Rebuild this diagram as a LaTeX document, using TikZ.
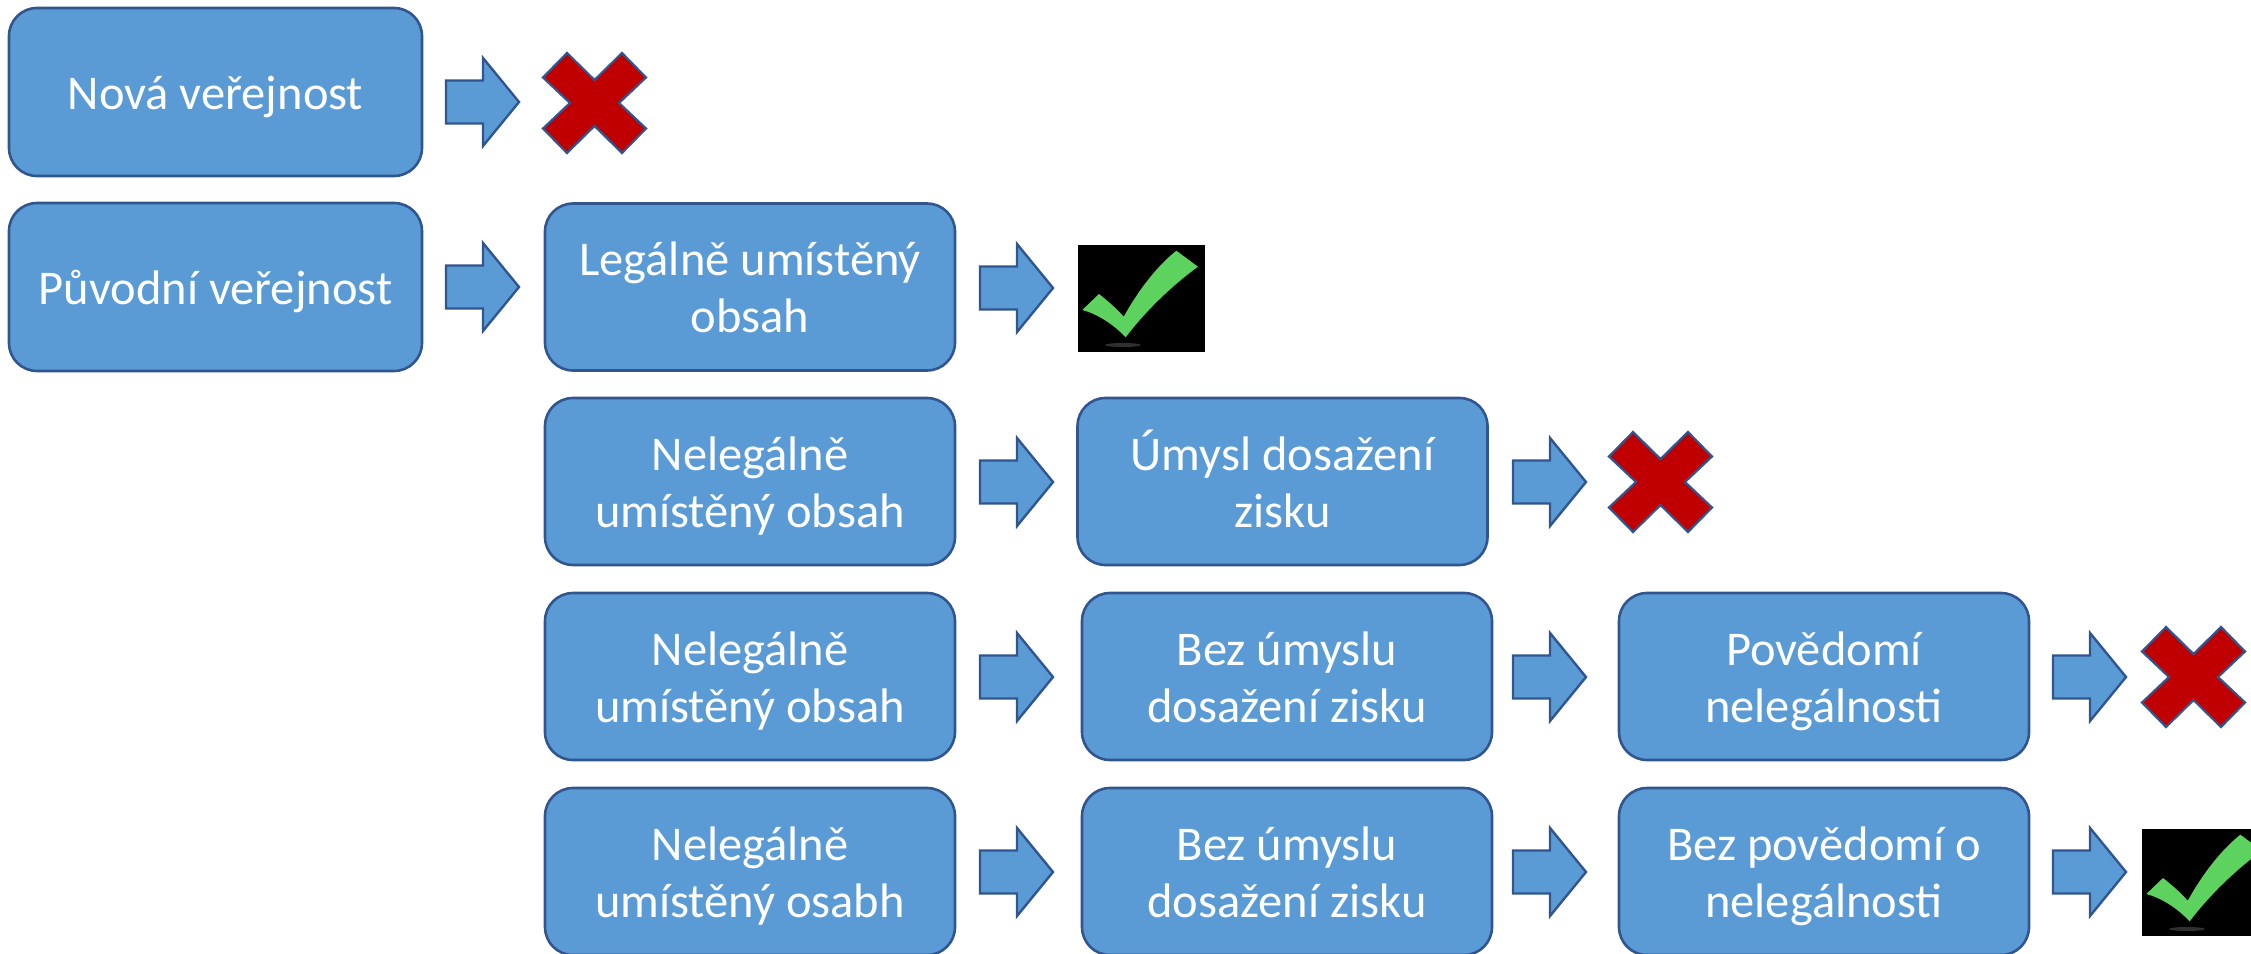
\documentclass[tikz,border=0pt]{standalone}
\usepackage{fontspec}
\setmainfont{Carlito}
\definecolor{boxfill}{HTML}{5B9BD5}
\definecolor{boxline}{HTML}{31568F}
\definecolor{xred}{HTML}{C00000}
\definecolor{chkgreen}{RGB}{94,210,94}
\definecolor{shadowgray}{RGB}{48,48,48}
\newcommand\lnA{\rule{0pt}{50pt}}
\newcommand\lnZ{\rule[-16pt]{0pt}{16pt}}
\begin{document}
\begin{tikzpicture}[x=1pt,y=-1pt,
  box/.style={draw=boxline, fill=boxfill, line width=2.6pt, rounded corners=28pt,
    minimum width=410pt, minimum height=167pt, inner sep=0pt, align=center,
    text=white, font=\fontsize{48.5}{57}\selectfont},
  oneline/.style={text height=34pt, text depth=0pt},
  arrowline/.style={draw=boxline, fill=boxfill, line width=2.4pt, line join=miter},
  xline/.style={draw=boxline, fill=xred, line width=2.2pt, line join=miter},
  barrow/.pic={\path[arrowline] (0,-21.5) -- (37,-21.5) -- (37,-44) -- (73,0) -- (37,44) -- (37,21.5) -- (0,21.5) -- cycle;},
  xmark/.pic={\path[xline] (0,24.5) -- (24,0) -- (51.5,27) -- (79,0) -- (103,24.5) -- (76,50) -- (103,75.5) -- (79,100) -- (51.5,73) -- (24,100) -- (0,75.5) -- (27,50) -- cycle;},
  chkmark/.pic={
    \fill[black] (0,0) rectangle (127,107);
    \fill[shadowgray] (45,100) ellipse [x radius=18, y radius=2];
    \fill[chkgreen] (4.3,65) -- (21,49) .. controls (31,57) and (39,64) .. (45.7,71.7)
      .. controls (60,46) and (78,22) .. (98.3,5.7) -- (120,21.7)
      .. controls (92,42) and (66,68) .. (47.7,92.3)
      .. controls (36,80) and (20,69) .. (4.3,65) -- cycle;}
]
\useasboundingbox (0,0) rectangle (2251,953);

% row 1
\node[box, oneline, minimum width=413pt, minimum height=168pt] (nova) at (215.5,92) {Nová veřejnost};
\pic at (446,102) {barrow};
\pic at (543,53) {xmark};

% row 2
\node[box, oneline, minimum width=413pt, minimum height=168pt] (puvodni) at (215.5,287) {Původní veřejnost};
\pic at (446,287) {barrow};
\node[box] (legal) at (750,287) {\lnA Legálně umístěný\\obsah\lnZ};
\pic at (980,288) {barrow};
\pic at (1078,245) {chkmark};

% row 3
\node[box] (nelegA) at (750,481.5) {\lnA Nelegálně\\umístěný obsah\lnZ};
\pic at (980,482) {barrow};
\node[box] (umysl) at (1282.5,481.5) {\lnA Úmysl dosažení\\zisku\lnZ};
\pic at (1513,482) {barrow};
\pic at (1609,432) {xmark};

% row 4
\node[box] (nelegB) at (750,676.5) {\lnA Nelegálně\\umístěný obsah\lnZ};
\pic at (980,677) {barrow};
\node[box] (bezA) at (1287,676.5) {\lnA Bez úmyslu\\dosažení zisku\lnZ};
\pic at (1513,677) {barrow};
\node[box] (povedomi) at (1824,676.5) {\lnA Povědomí\\nelegálnosti\lnZ};
\pic at (2053,677) {barrow};
\pic at (2142,627) {xmark};

% row 5
\node[box] (nelegC) at (750,871.5) {\lnA Nelegálně\\umístěný osabh\lnZ};
\pic at (980,872) {barrow};
\node[box] (bezB) at (1287,871.5) {\lnA Bez úmyslu\\dosažení zisku\lnZ};
\pic at (1513,872) {barrow};
\node[box] (bezpov) at (1824,871.5) {\lnA Bez povědomí o\\nelegálnosti\lnZ};
\pic at (2053,872) {barrow};
\pic at (2142,829) {chkmark};
\end{tikzpicture}
\end{document}
